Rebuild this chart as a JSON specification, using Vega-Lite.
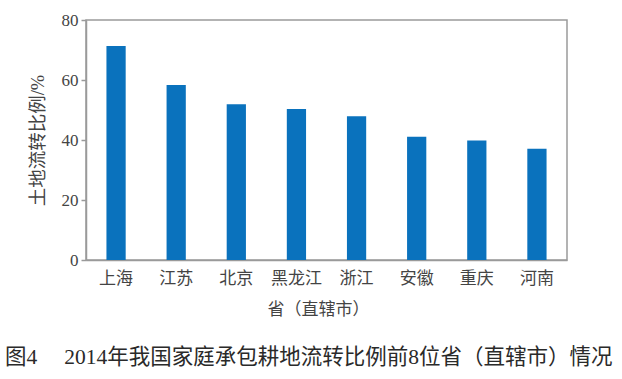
{
  "$schema": "https://vega.github.io/schema/vega-lite/v6.json",
  "autosize": "none",
  "width": 481,
  "height": 240,
  "padding": {"left": 86, "top": 20, "right": 55, "bottom": 119},
  "background": "white",
  "config": {
    "view": {"stroke": "#9a9a9a", "strokeWidth": 1.5},
    "font": "Liberation Serif, Noto Sans CJK SC"
  },
  "title": {
    "text": "图4　 2014年我国家庭承包耕地流转比例前8位省（直辖市）情况",
    "orient": "bottom",
    "anchor": "start",
    "frame": "group",
    "dx": -81,
    "offset": 30,
    "fontSize": 21.5,
    "fontWeight": "normal",
    "color": "#2a2a2a",
    "font": "Liberation Serif, Noto Sans CJK SC"
  },
  "data": {
    "values": [
      {"province": "上海", "ratio": 71.3},
      {"province": "江苏", "ratio": 58.3},
      {"province": "北京", "ratio": 51.9},
      {"province": "黑龙江", "ratio": 50.3},
      {"province": "浙江", "ratio": 47.9},
      {"province": "安徽", "ratio": 41.1},
      {"province": "重庆", "ratio": 39.8},
      {"province": "河南", "ratio": 37.1}
    ]
  },
  "mark": {"type": "bar", "color": "#0a72bd"},
  "encoding": {
    "x": {
      "field": "province",
      "type": "nominal",
      "sort": null,
      "scale": {"paddingInner": 0.68, "paddingOuter": 0.34},
      "axis": {
        "title": "省（直辖市）",
        "titleFontSize": 17,
        "titleFontWeight": "normal",
        "titleColor": "#444",
        "titlePadding": 15,
        "titleX": 232,
        "labelAngle": 0,
        "labelFontSize": 17,
        "labelColor": "#444",
        "labelPadding": 10,
        "ticks": false,
        "domainColor": "#9a9a9a",
        "domainWidth": 1.5,
        "grid": false
      }
    },
    "y": {
      "field": "ratio",
      "type": "quantitative",
      "scale": {"domain": [0, 80], "nice": false},
      "axis": {
        "values": [0, 20, 40, 60, 80],
        "title": "土地流转比例/%",
        "titleFontSize": 18.5,
        "titleFontWeight": "normal",
        "titleColor": "#444",
        "titlePadding": 14,
        "labelFontSize": 17,
        "labelColor": "#444",
        "labelPadding": 3,
        "tickSize": 5,
        "tickColor": "#9a9a9a",
        "tickWidth": 1.5,
        "domainColor": "#9a9a9a",
        "domainWidth": 1.5,
        "grid": false
      }
    }
  }
}
